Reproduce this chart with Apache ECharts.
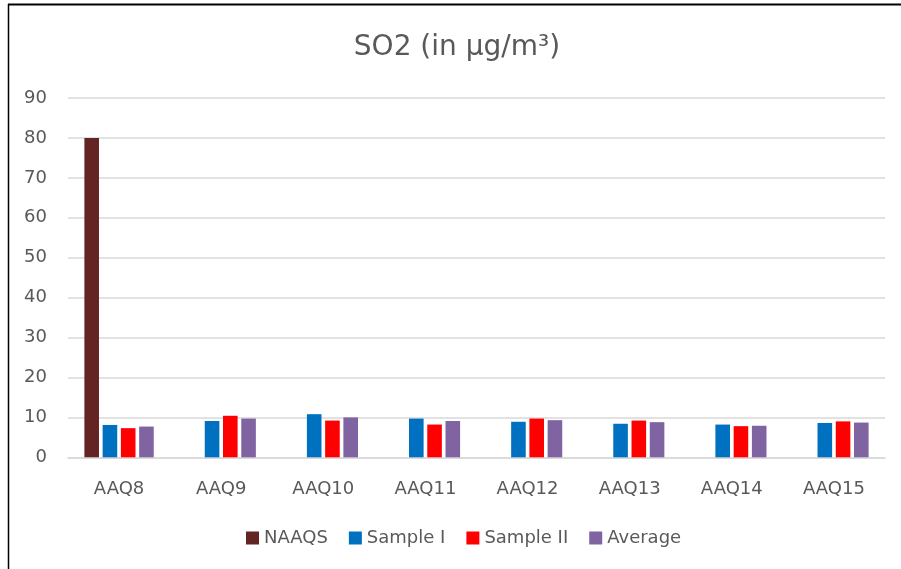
<!DOCTYPE html>
<html>
<head>
<meta charset="utf-8">
<script src="https://cdn.jsdelivr.net/npm/echarts@6/dist/echarts.min.js"></script>
<style>
html,body{margin:0;padding:0;background:#fff;}
#c{width:901px;height:569px;}
</style>
</head>
<body>
<div id="c"></div>
<script>
var categories = ['AAQ8','AAQ9','AAQ10','AAQ11','AAQ12','AAQ13','AAQ14','AAQ15'];
var naaqs    = [80, null, null, null, null, null, null, null];
var sample1  = [8.1, 9.1, 10.8, 9.7, 8.9, 8.4, 8.2, 8.6];
var sample2  = [7.3, 10.4, 9.2, 8.2, 9.7, 9.2, 7.8, 9.0];
var average  = [7.7, 9.7, 10.0, 9.1, 9.3, 8.8, 7.9, 8.7];
var yTicks   = {min: 0, max: 90, interval: 10};

var FONT = '"DejaVu Sans", sans-serif';
var TXT = '#595959';
var chart = echarts.init(document.getElementById('c'), null, {renderer: 'canvas'});

function bar(name, data, color) {
  return {
    name: name, type: 'bar', data: data,
    barWidth: 14.6, barGap: '25%',
    itemStyle: {color: color},
    emphasis: {disabled: true}
  };
}

chart.setOption({
  animation: false,
  backgroundColor: '#fff',
  title: {
    text: 'SO2 (in µg/m³)',
    left: 457, textAlign: 'center', top: 34, padding: 0,
    textStyle: {fontFamily: FONT, fontSize: 28, fontWeight: 'normal', color: TXT}
  },
  legend: {
    top: 524, left: 241,
    itemWidth: 13, itemHeight: 13, itemGap: 21,
    icon: 'rect',
    textStyle: {fontFamily: FONT, fontSize: 18, color: TXT},
    data: ['NAAQS','Sample I','Sample II','Average']
  },
  grid: {left: 68, right: 16, top: 98, bottom: 111.7, containLabel: false},
  xAxis: {
    type: 'category', data: categories,
    axisLine: {lineStyle: {color: '#d9d9d9', width: 1.5}},
    axisTick: {show: false},
    axisLabel: {fontFamily: FONT, fontSize: 18, color: TXT, margin: 23}
  },
  yAxis: {
    type: 'value', min: yTicks.min, max: yTicks.max, interval: yTicks.interval,
    axisLine: {show: false}, axisTick: {show: false},
    splitLine: {lineStyle: {color: '#d9d9d9', width: 1.5}},
    axisLabel: {fontFamily: FONT, fontSize: 18, color: TXT, margin: 21}
  },
  series: [
    bar('NAAQS', naaqs, '#632523'),
    bar('Sample I', sample1, '#0070C0'),
    bar('Sample II', sample2, '#FF0000'),
    bar('Average', average, '#8064A2')
  ],
  graphic: [
    {type: 'line', shape: {x1: 8, y1: 4.5, x2: 901, y2: 4.5}, style: {stroke: '#000', lineWidth: 2}, silent: true},
    {type: 'line', shape: {x1: 8.5, y1: 4, x2: 8.5, y2: 569}, style: {stroke: '#000', lineWidth: 1.5}, silent: true}
  ]
});
</script>
</body>
</html>
